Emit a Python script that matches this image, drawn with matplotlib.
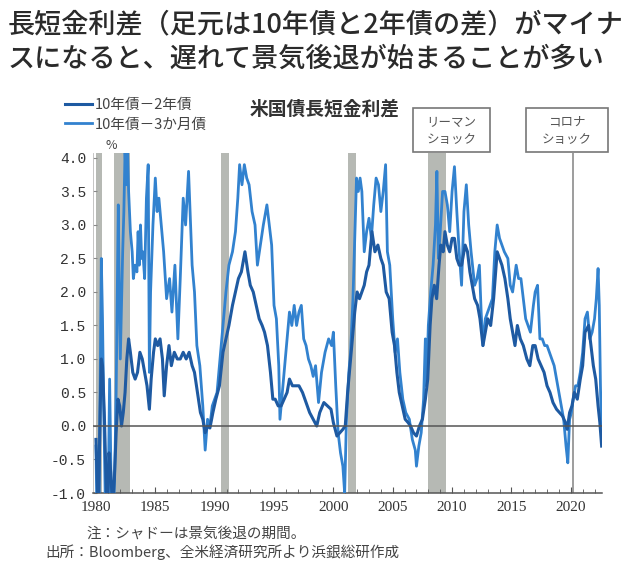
import matplotlib
matplotlib.use("Agg")
import matplotlib.pyplot as plt
from matplotlib.patches import Rectangle
from matplotlib.ticker import MultipleLocator

plt.rcParams['font.family'] = ['Noto Sans CJK JP', 'DejaVu Sans']

# ---------------- data ----------------
title_lines = ["長短金利差（足元は10年債と2年債の差）がマイナ",
               "スになると、遅れて景気後退が始まることが多い"]
chart_title = "米国債長短金利差"
legend_labels = ["10年債－2年債", "10年債－3か月債"]
note_text = "注：シャドーは景気後退の期間。"
source_text = "出所：Bloomberg、全米経済研究所より浜銀総研作成"
box_labels = ["リーマン\nショック", "コロナ\nショック"]

# 10-year minus 2-year spread (%)
years_2y = [1980.00, 1980.10, 1980.20, 1980.35, 1980.45, 1980.55, 1980.70, 1980.85, 1980.95,
            1981.10, 1981.25, 1981.40, 1981.55, 1981.70, 1981.85, 1982.00, 1982.15, 1982.30,
            1982.45, 1982.60, 1982.75, 1982.90, 1983.10, 1983.30, 1983.50, 1983.70, 1983.90,
            1984.10, 1984.30, 1984.50, 1984.65, 1984.85, 1985.00, 1985.20, 1985.40, 1985.60,
            1985.75, 1985.95, 1986.15, 1986.35, 1986.60, 1986.85, 1987.10, 1987.35, 1987.60,
            1987.85, 1988.10, 1988.30, 1988.55, 1988.80, 1989.00, 1989.20, 1989.40, 1989.60,
            1989.85, 1990.10, 1990.40, 1990.70, 1990.95, 1991.20, 1991.50, 1991.75, 1992.00,
            1992.25, 1992.55, 1992.80, 1993.00, 1993.25, 1993.50, 1993.75, 1994.00, 1994.20,
            1994.45, 1994.70, 1994.90, 1995.10, 1995.35, 1995.60, 1995.85, 1996.10, 1996.30,
            1996.55, 1996.80, 1997.10, 1997.40, 1997.70, 1998.00, 1998.30, 1998.60, 1998.85,
            1999.20, 1999.50, 1999.80, 2000.00, 2000.30, 2000.55, 2000.80, 2001.00, 2001.20,
            2001.40, 2001.60, 2001.80, 2002.00, 2002.20, 2002.40, 2002.60, 2002.80, 2003.00,
            2003.25, 2003.50, 2003.75, 2004.00, 2004.20, 2004.45, 2004.70, 2004.95, 2005.15,
            2005.35, 2005.55, 2005.80, 2006.05, 2006.30, 2006.50, 2006.75, 2007.00, 2007.25,
            2007.50, 2007.75, 2007.95, 2008.15, 2008.30, 2008.50, 2008.70, 2008.90, 2009.05,
            2009.25, 2009.40, 2009.60, 2009.80, 2010.00, 2010.20, 2010.40, 2010.60, 2010.80,
            2011.10, 2011.30, 2011.50, 2011.70, 2011.90, 2012.15, 2012.35, 2012.60, 2012.80,
            2013.00, 2013.25, 2013.50, 2013.80, 2014.00, 2014.20, 2014.45, 2014.70, 2014.90,
            2015.10, 2015.30, 2015.50, 2015.75, 2016.00, 2016.30, 2016.55, 2016.80, 2017.00,
            2017.25, 2017.50, 2017.75, 2018.00, 2018.25, 2018.50, 2018.80, 2019.05, 2019.30,
            2019.55, 2019.70, 2019.90, 2020.10, 2020.30, 2020.55, 2020.80, 2021.00, 2021.20,
            2021.50, 2021.70, 2021.90, 2022.10, 2022.30, 2022.45, 2022.60]
spread_2y = [-0.2, -0.8, -1.3, 0.2, 1.0, 0.9, 0.2, -0.8, -1.4,
             -0.4, -0.7, -1.2, -0.8, -0.1, 0.4, 0.3, 0.0, 0.2,
             0.5, 1.0, 1.3, 1.1, 0.8, 0.7, 0.8, 1.1, 1.0,
             0.8, 0.6, 0.25, 0.7, 1.1, 1.3, 1.2, 1.3, 1.0,
             0.45, 0.9, 1.2, 0.9, 1.1, 1.0, 1.0, 1.1, 1.0,
             1.1, 0.9, 0.8, 0.5, 0.2, 0.1, -0.1, 0.0, -0.03,
             0.2, 0.4, 0.6, 1.1, 1.3, 1.5, 1.8, 2.0, 2.2,
             2.3, 2.6, 2.3, 2.1, 2.0, 1.8, 1.6, 1.5, 1.4,
             1.2, 0.8, 0.4, 0.4, 0.3, 0.3, 0.4, 0.5, 0.7,
             0.6, 0.6, 0.6, 0.5, 0.35, 0.2, 0.1, 0.0, 0.2,
             0.35, 0.3, 0.25, 0.05, -0.15, -0.1, -0.05, 0.0, 0.5,
             0.9, 1.3, 1.7, 2.0, 1.9, 2.0, 2.1, 2.3, 2.4,
             2.9, 2.6, 2.7, 2.5, 2.4, 2.0, 1.9, 1.4, 1.2,
             0.8, 0.5, 0.3, 0.1, 0.05, 0.0, -0.1, -0.15, 0.0,
             0.1, 0.4, 0.7, 1.5, 1.9, 2.1, 1.9, 2.4, 2.7,
             2.6, 2.9, 2.7, 2.6, 2.8, 2.8, 2.5, 2.4, 2.4,
             2.7, 2.6, 2.3, 2.1, 1.9, 1.8, 1.6, 1.2, 1.4,
             1.6, 1.5, 1.9, 2.6, 2.5, 2.4, 2.2, 1.9, 1.6,
             1.4, 1.2, 1.5, 1.3, 1.2, 1.0, 0.9, 1.2, 1.2,
             1.0, 0.9, 0.8, 0.6, 0.5, 0.35, 0.25, 0.2, 0.15,
             0.05, -0.05, 0.2, 0.3, 0.5, 0.4, 0.7, 0.9, 1.4,
             1.5, 1.2, 0.9, 0.7, 0.3, 0.05, -0.3]

# 10-year minus 3-month spread (%)
years_3m = [1980.00, 1980.10, 1980.25, 1980.35, 1980.45, 1980.55, 1980.65, 1980.75, 1980.85,
            1981.00, 1981.15, 1981.25, 1981.35, 1981.50, 1981.60, 1981.70, 1981.80, 1981.88,
            1981.95, 1982.05, 1982.15, 1982.25, 1982.35, 1982.45, 1982.55, 1982.65, 1982.75,
            1982.90, 1983.05, 1983.15, 1983.30, 1983.45, 1983.55, 1983.65, 1983.75, 1983.85,
            1983.95, 1984.10, 1984.25, 1984.40, 1984.50, 1984.60, 1984.80, 1985.00, 1985.15,
            1985.30, 1985.50, 1985.70, 1985.95, 1986.20, 1986.40, 1986.65, 1986.90, 1987.10,
            1987.35, 1987.55, 1987.80, 1987.95, 1988.10, 1988.30, 1988.50, 1988.75, 1989.00,
            1989.20, 1989.40, 1989.60, 1989.80, 1990.00, 1990.20, 1990.45, 1990.70, 1990.95,
            1991.20, 1991.50, 1991.75, 1991.95, 1992.10, 1992.30, 1992.50, 1992.70, 1992.90,
            1993.15, 1993.40, 1993.60, 1993.85, 1994.10, 1994.40, 1994.60, 1994.80, 1995.00,
            1995.20, 1995.40, 1995.50, 1995.70, 1995.90, 1996.10, 1996.30, 1996.50, 1996.70,
            1996.90, 1997.10, 1997.30, 1997.50, 1997.70, 1997.90, 1998.10, 1998.30, 1998.50,
            1998.75, 1999.00, 1999.30, 1999.60, 1999.85, 2000.00, 2000.20, 2000.40, 2000.60,
            2000.80, 2000.95, 2001.10, 2001.30, 2001.45, 2001.65, 2001.80, 2001.95, 2002.10,
            2002.25, 2002.40, 2002.60, 2002.80, 2003.00, 2003.20, 2003.40, 2003.60, 2003.80,
            2004.00, 2004.20, 2004.40, 2004.55, 2004.75, 2005.00, 2005.20, 2005.40, 2005.60,
            2005.85, 2006.10, 2006.40, 2006.65, 2006.90, 2007.00, 2007.20, 2007.40, 2007.60,
            2007.75, 2007.85, 2008.00, 2008.20, 2008.40, 2008.60, 2008.72, 2008.85, 2009.00,
            2009.20, 2009.40, 2009.60, 2009.80, 2010.00, 2010.20, 2010.40, 2010.60, 2010.80,
            2011.00, 2011.20, 2011.40, 2011.60, 2011.90, 2012.10, 2012.30, 2012.45, 2012.60,
            2012.80, 2013.00, 2013.20, 2013.40, 2013.60, 2013.80, 2014.00, 2014.20, 2014.40,
            2014.70, 2014.90, 2015.10, 2015.40, 2015.60, 2015.80, 2016.00, 2016.20, 2016.40,
            2016.60, 2016.85, 2017.00, 2017.20, 2017.40, 2017.60, 2017.80, 2018.00, 2018.20,
            2018.40, 2018.60, 2018.80, 2019.00, 2019.20, 2019.40, 2019.60, 2019.75, 2019.90,
            2020.05, 2020.20, 2020.40, 2020.60, 2020.80, 2021.00, 2021.20, 2021.40, 2021.60,
            2021.80, 2022.00, 2022.15, 2022.30, 2022.40, 2022.50, 2022.60]
spread_3m = [-0.3, -1.6, -1.5, 0.5, 2.5, 1.6, 0.3, -0.8, -1.8,
             -1.5, 0.7, -0.5, -1.8, -1.2, -0.5, 0.5, 2.0, 3.3,
             2.2, 1.0, 1.8, 2.6, 3.2, 4.1, 3.6, 4.2, 3.5,
             2.9, 2.6, 2.2, 2.4, 2.3, 2.9, 2.4, 3.0, 2.5,
             2.6, 2.2, 3.4, 3.9, 0.8, 2.0, 3.0, 3.7, 3.2,
             3.4, 3.0, 2.6, 1.9, 2.2, 1.7, 2.4, 1.3, 2.2,
             3.4, 3.0, 3.8, 3.1, 2.4, 2.0, 1.2, 0.9, 0.3,
             -0.36, 0.1, 0.0, 0.3, 0.4, 0.5, 1.0, 1.5, 2.0,
             2.4, 2.6, 2.9, 3.4, 3.9, 3.6, 3.9, 3.7, 3.6,
             3.2, 3.0, 2.4, 2.7, 3.0, 3.3, 3.0, 2.7, 1.8,
             1.6, 0.9, 0.1, 0.5, 0.9, 1.3, 1.7, 1.5, 1.8,
             1.5, 1.7, 1.8, 1.3, 1.2, 1.0, 0.9, 0.74, 0.9,
             0.35, 0.8, 1.1, 1.3, 1.2, 1.4, 0.6, -0.1, -0.4,
             -0.6, -1.0, 0.1, 0.8, 1.1, 1.9, 2.8, 3.7, 3.5,
             3.7, 3.5, 2.6, 2.9, 3.1, 2.8, 3.3, 3.7, 3.6,
             3.2, 3.5, 3.9, 2.6, 2.4, 1.6, 1.1, 1.3, 0.8,
             0.4, 0.2, 0.1, -0.2, -0.36, -0.6, -0.3, -0.1, 0.4,
             1.3, 0.6, 1.5, 2.0, 2.4, 3.0, 3.8, 2.5, 2.9,
             3.5, 3.5, 3.3, 2.9, 3.5, 3.87, 3.2, 2.6, 2.1,
             3.2, 3.6, 3.0, 2.6, 2.1, 2.2, 2.4, 1.7, 1.2,
             1.6, 1.7, 1.8, 1.9, 2.6, 3.0, 2.8, 2.7, 2.6,
             2.5, 2.1, 2.0, 2.4, 2.2, 2.2, 1.9, 1.6, 1.5,
             1.4, 1.8, 2.0, 2.1, 1.3, 1.3, 1.2, 1.2, 1.1,
             1.0, 0.9, 0.7, 0.5, 0.3, 0.1, -0.3, -0.55, 0.1,
             0.2, 0.4, 0.6, 0.6, 0.8, 1.1, 1.6, 1.7, 1.3,
             1.4, 1.6, 1.9, 2.35, 1.8, 0.6, -0.2]

# recession periods (start, end) in decimal years
recession_start = [1980.0, 1981.55, 1990.55, 2001.2, 2007.95]
recession_end = [1980.55, 1982.9, 1991.2, 2001.9, 2009.45]
covid_year = 2020.2

y_ticks = [4.0, 3.5, 3.0, 2.5, 2.0, 1.5, 1.0, 0.5, 0.0, -0.5, -1.0]
x_ticks = [1980, 1985, 1990, 1995, 2000, 2005, 2010, 2015, 2020]

# ---------------- figure ----------------
W, H = 636, 563
fig = plt.figure(figsize=(W / 100, H / 100), dpi=100)
fig.patch.set_facecolor('white')

def fx(px):
    return px / W

def fy(py):
    return 1 - py / H

ax_left, ax_right, ax_top, ax_bottom = 93, 602, 152.6, 493
ax = fig.add_axes([fx(ax_left), fy(ax_bottom), fx(ax_right - ax_left), (ax_bottom - ax_top) / H])
ax.set_xlim(1979.75, 2022.63)
ax.set_ylim(-1.0, 4.08)

for s, e in zip(recession_start, recession_end):
    ax.axvspan(s, e, color='#a9ada7', alpha=0.85, lw=0, zorder=1)
ax.axvline(covid_year, color='#8c8c8c', lw=1.2, zorder=1)

c2 = '#1e5aa2'
c3 = '#3282cf'
l3, = ax.plot(years_3m, spread_3m, color=c3, lw=2.0, zorder=3, label=legend_labels[1])
l2, = ax.plot(years_2y, spread_2y, color=c2, lw=2.2, zorder=4, label=legend_labels[0])

ax.axhline(0, color='#555555', lw=1.1, zorder=5)

for side in ['top', 'right']:
    ax.spines[side].set_visible(False)
ax.spines['bottom'].set_color('#555555')
ax.spines['bottom'].set_linewidth(1.1)
ax.spines['left'].set_color('#bbbbbb')
ax.spines['left'].set_linewidth(0.6)
ax.set_facecolor('none')

ax.set_xticks(x_ticks)
ax.xaxis.set_minor_locator(MultipleLocator(1))
ax.set_yticks(y_ticks)
ax.set_yticklabels([f"{v:.1f}" for v in y_ticks], family='Liberation Mono', fontsize=10.5, color='#333333')
ax.set_xticklabels([str(v) for v in x_ticks], family='Liberation Serif', fontsize=11, color='#333333')
ax.tick_params(axis='x', which='major', direction='in', length=4, color='#555555', pad=6)
ax.tick_params(axis='x', which='minor', direction='in', length=3, color='#555555')
ax.tick_params(axis='y', which='major', direction='in', length=3, color='#888888', pad=5)

# titles
fig.text(fx(8), fy(25), title_lines[0], fontsize=19.5, weight='medium', color='#2a2a2a', va='center', ha='left')
fig.text(fx(8), fy(59), title_lines[1], fontsize=19.5, weight='medium', color='#2a2a2a', va='center', ha='left')
fig.text(fx(325), fy(109), chart_title, fontsize=13.5, weight='bold', color='#333333', va='center', ha='center')
fig.text(fx(111), fy(146), "%", fontsize=9, color='#444444', va='center', ha='center')

# legend
fig.legend(handles=[l2, l3], labels=legend_labels, loc='upper left',
           bbox_to_anchor=(fx(58), fy(91)), frameon=False, fontsize=10.5,
           handlelength=1.8, handletextpad=0.2, labelspacing=0.35, borderpad=0,
           labelcolor='#444444')

# annotation boxes
for (x0, w), lab in zip([(413, 77), (526, 82)], box_labels):
    fig.add_artist(Rectangle((fx(x0), fy(152)), fx(w), 44 / H, transform=fig.transFigure,
                             facecolor='white', edgecolor='#777777', lw=1.2))
    top, bot = lab.split("\n")
    fig.text(fx(x0 + w / 2), fy(122), top, fontsize=9, color='#555555', ha='center', va='center')
    fig.text(fx(x0 + w / 2), fy(140), bot, fontsize=9, color='#555555', ha='center', va='center')

# footnotes
fig.text(fx(86), fy(534), note_text, fontsize=10.5, color='#444444', va='center', ha='left')
fig.text(fx(45), fy(552), source_text, fontsize=10.5, color='#444444', va='center', ha='left')

fig.savefig('out.png', dpi=100, facecolor='white')
